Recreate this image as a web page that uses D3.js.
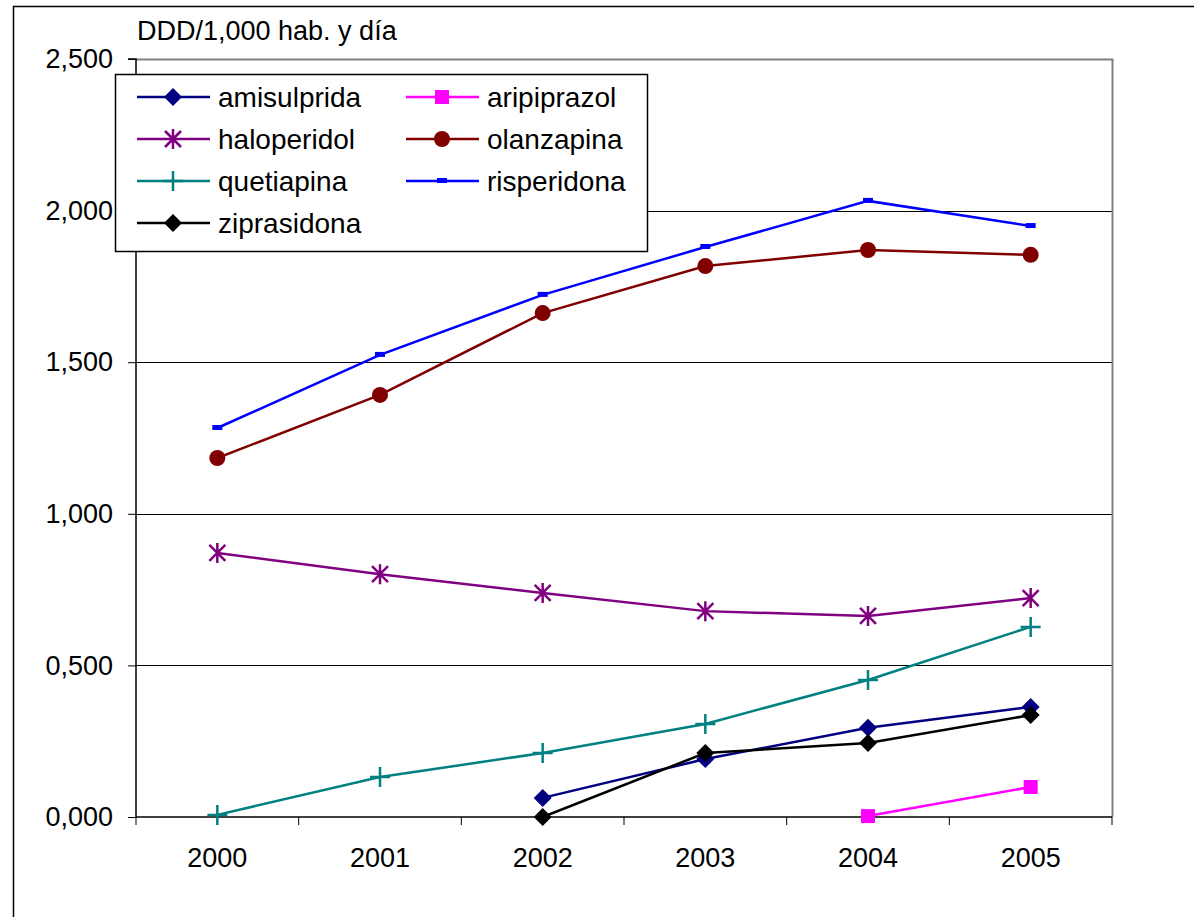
<!DOCTYPE html>
<html>
<head>
<meta charset="utf-8">
<script src="https://cdn.jsdelivr.net/npm/d3@7"></script>
<style>
  body { margin: 0; background: #fff; }
  svg { font-family: "Liberation Sans", Arial, sans-serif; }
</style>
</head>
<body>
<div id="chart"></div>
<script>
// data
const years = ['2000', '2001', '2002', '2003', '2004', '2005'];
const yTicks = [0, 0.5, 1, 1.5, 2, 2.5];

const amisulprida = [null, null, 0.063, 0.191, 0.294, 0.363];
const aripiprazol = [null, null, null, null, 0.003, 0.099];
const haloperidol = [0.871, 0.801, 0.739, 0.679, 0.663, 0.722];
const olanzapina = [1.184, 1.392, 1.662, 1.817, 1.870, 1.854];
const quetiapina = [0.007, 0.132, 0.211, 0.307, 0.452, 0.627];
const risperidona = [1.283, 1.524, 1.722, 1.880, 2.032, 1.949];
const ziprasidona = [null, null, 0.0, 0.211, 0.244, 0.336];

const series = [
    { name: 'amisulprida', values: amisulprida, color: '#000080', marker: 'diamond' },
    { name: 'aripiprazol', values: aripiprazol, color: '#ff00ff', marker: 'square' },
    { name: 'haloperidol', values: haloperidol, color: '#800080', marker: 'star' },
    { name: 'olanzapina', values: olanzapina, color: '#800000', marker: 'circle' },
    { name: 'quetiapina', values: quetiapina, color: '#008080', marker: 'plus' },
    { name: 'risperidona', values: risperidona, color: '#0000ff', marker: 'dash' },
    { name: 'ziprasidona', values: ziprasidona, color: '#000000', marker: 'diamond' }
];

const W = 1194, H = 917;
const plot = { left: 136, right: 1112, top: 59, bottom: 817 };

const svg = d3.select('#chart').append('svg')
    .attr('width', W)
    .attr('height', H);

// outer chart border
svg.append('rect')
    .attr('x', 13.5).attr('y', 6.5)
    .attr('width', W).attr('height', H)
    .attr('fill', 'none')
    .attr('stroke', '#000')
    .attr('stroke-width', 1.5);

const x = d3.scaleBand()
    .domain(years)
    .range([plot.left, plot.right]);

const y = d3.scaleLinear()
    .domain([0, 2.5])
    .range([plot.bottom, plot.top]);

const fmt = d => d3.format('.3f')(d).replace('.', ',');

// gridlines
svg.append('g')
    .selectAll('line')
    .data(yTicks.slice(1, -1))
    .enter().append('line')
    .attr('x1', plot.left).attr('x2', plot.right)
    .attr('y1', d => Math.round(y(d)) + 0.5)
    .attr('y2', d => Math.round(y(d)) + 0.5)
    .attr('stroke', '#000')
    .attr('stroke-width', 1);

// plot area border (gray, top & right)
svg.append('path')
    .attr('d', `M${plot.left},${plot.top + 0.5}H${plot.right + 0.5}V${plot.bottom}`)
    .attr('fill', 'none')
    .attr('stroke', '#808080')
    .attr('stroke-width', 2);

// y axis
const yAxis = svg.append('g')
    .attr('transform', `translate(${plot.left},0)`)
    .call(d3.axisLeft(y).tickValues(yTicks).tickFormat(fmt).tickSize(8).tickPadding(15));
yAxis.select('.domain').attr('stroke', '#000').attr('stroke-width', 1.5)
    .attr('d', `M-8,${plot.top}H0V${plot.bottom}`);
yAxis.selectAll('.tick line').attr('stroke', '#000');
yAxis.selectAll('text')
    .attr('font-size', 27)
    .attr('font-family', '"Liberation Sans", Arial, sans-serif')
    .attr('fill', '#000');

// x axis, ticks between categories
const xAxis = svg.append('g')
    .attr('transform', `translate(0,${plot.bottom})`);
xAxis.append('line')
    .attr('x1', plot.left).attr('x2', plot.right)
    .attr('stroke', '#000').attr('stroke-width', 1.5);
const bounds = years.map(d => x(d)).concat([x(years[years.length - 1]) + x.bandwidth()]);
xAxis.selectAll('.xt')
    .data(bounds)
    .enter().append('line')
    .attr('class', 'xt')
    .attr('x1', d => d).attr('x2', d => d)
    .attr('y1', 0).attr('y2', 8)
    .attr('stroke', '#000');
xAxis.selectAll('text')
    .data(years)
    .enter().append('text')
    .attr('x', d => x(d) + x.bandwidth() / 2)
    .attr('y', 50)
    .attr('text-anchor', 'middle')
    .attr('font-size', 27)
    .text(d => d);

// axis title
svg.append('text')
    .attr('x', 137)
    .attr('y', 40)
    .attr('font-size', 27)
    .text('DDD/1,000 hab. y día');

function drawMarker(g, type, color) {
    if (type === 'diamond') {
        g.append('path').attr('d', 'M0,-9L9,0L0,9L-9,0Z').attr('fill', color);
    } else if (type === 'square') {
        g.append('rect').attr('x', -7).attr('y', -7).attr('width', 14).attr('height', 14).attr('fill', color);
    } else if (type === 'circle') {
        g.append('circle').attr('r', 8).attr('fill', color);
    } else if (type === 'star') {
        g.append('path').attr('d', 'M-8,-8L8,8M-8,8L8,-8M0,-10V10')
            .attr('stroke', color).attr('stroke-width', 2.5).attr('fill', 'none');
    } else if (type === 'plus') {
        g.append('path').attr('d', 'M-10,0H10M0,-10V10')
            .attr('stroke', color).attr('stroke-width', 2.5).attr('fill', 'none');
    } else if (type === 'dash') {
        g.append('rect').attr('x', -5).attr('y', -3).attr('width', 10).attr('height', 5).attr('fill', color);
    }
}

const line = d3.line()
    .defined(d => d.v != null)
    .x(d => x(d.year) + x.bandwidth() / 2)
    .y(d => y(d.v));

series.forEach(s => {
    const pts = years.map((yr, i) => ({ year: yr, v: s.values[i] }));
    svg.append('path')
        .datum(pts)
        .attr('d', line)
        .attr('fill', 'none')
        .attr('stroke', s.color)
        .attr('stroke-width', 2.5);
    pts.filter(p => p.v != null).forEach(p => {
        const g = svg.append('g')
            .attr('transform', `translate(${x(p.year) + x.bandwidth() / 2},${y(p.v)})`);
        drawMarker(g, s.marker, s.color);
    });
});

// legend
const legend = svg.append('g').attr('transform', 'translate(115,74)');
legend.append('rect')
    .attr('x', 0.5).attr('y', 0.5)
    .attr('width', 532).attr('height', 177)
    .attr('fill', '#fff')
    .attr('stroke', '#000')
    .attr('stroke-width', 1.5);

series.forEach((s, i) => {
    const col = i % 2, row = Math.floor(i / 2);
    const gx = 22 + col * 269, gy = 23 + row * 42;
    const g = legend.append('g').attr('transform', `translate(${gx},${gy})`);
    g.append('line')
        .attr('x1', 0).attr('x2', 73)
        .attr('stroke', s.color).attr('stroke-width', 2.5);
    const m = g.append('g').attr('transform', 'translate(36,0)');
    drawMarker(m, s.marker, s.color);
    g.append('text')
        .attr('x', 81)
        .attr('y', 10)
        .attr('font-size', 28)
        .text(s.name);
});
</script>
</body>
</html>
